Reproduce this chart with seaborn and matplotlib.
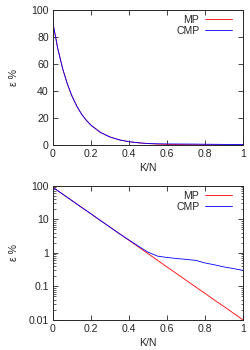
import numpy as np
import pandas as pd
import matplotlib
matplotlib.use("Agg")
import matplotlib.pyplot as plt
import seaborn as sns
from matplotlib.ticker import LogLocator, FixedLocator, FuncFormatter

# --- data ---
k_over_n = [0.0, 0.025, 0.05, 0.075, 0.10, 0.125, 0.15, 0.175, 0.20, 0.25,
            0.30, 0.35, 0.40, 0.45, 0.50, 0.55, 0.60, 0.65, 0.70, 0.75,
            0.80, 0.85, 0.90, 0.95, 1.0]
mp_err = [90.0, 71.6, 57.0, 45.4, 36.2, 28.8, 22.9, 18.3, 14.6, 9.24,
          5.86, 3.72, 2.36, 1.50, 0.95, 0.60, 0.38, 0.242, 0.153, 0.097,
          0.062, 0.039, 0.025, 0.0158, 0.010]
cmp_err = [90.0, 71.6, 57.0, 45.4, 36.2, 28.8, 22.9, 18.3, 14.6, 9.24,
           5.86, 3.72, 2.42, 1.58, 1.05, 0.80, 0.73, 0.68, 0.64, 0.60,
           0.50, 0.44, 0.38, 0.34, 0.30]

df = pd.DataFrame({"K/N": k_over_n + k_over_n,
                   "err": mp_err + cmp_err,
                   "method": ["MP"] * len(k_over_n) + ["CMP"] * len(k_over_n)})

sns.set_style("ticks")
plt.rcParams["font.family"] = ["Liberation Sans", "DejaVu Sans"]
plt.rcParams["font.size"] = 7.6

fig = plt.figure(figsize=(2.5, 3.5), dpi=100)
ax_lin = fig.add_axes([0.212, 0.586, 0.76, 0.385])
ax_log = fig.add_axes([0.212, 0.086, 0.76, 0.383])

palette = {"MP": "#ff0000", "CMP": "#0000ff"}

for ax in (ax_lin, ax_log):
    sns.lineplot(data=df, x="K/N", y="err", hue="method", palette=palette,
                 linewidth=0.6, ax=ax)
    ax.set_xlim(0, 1)
    ax.xaxis.set_major_locator(FixedLocator([0, 0.2, 0.4, 0.6, 0.8, 1.0]))
    ax.xaxis.set_major_formatter(FuncFormatter(lambda v, p: "%g" % v))
    ax.set_xlabel("K/N", labelpad=3)
    ax.set_ylabel("ε %")
    ax.yaxis.set_label_coords(-0.18, 0.5)
    ax.tick_params(direction="in", top=True, right=True, length=3.5,
                   width=0.6, pad=3)
    ax.tick_params(which="minor", direction="in", top=True, right=True,
                   length=1.8, width=0.5)
    for s in ax.spines.values():
        s.set_linewidth(0.7)
    ax.legend(loc="upper right", bbox_to_anchor=(0.942, 0.965),
              frameon=False, markerfirst=False, borderpad=0,
              borderaxespad=0, handlelength=2.6, handletextpad=0.5,
              labelspacing=0.1, fontsize=7.6)

ax_lin.set_ylim(0, 100)
ax_lin.yaxis.set_major_locator(FixedLocator([0, 20, 40, 60, 80, 100]))

ax_log.set_yscale("log")
ax_log.set_ylim(0.01, 100)
ax_log.yaxis.set_major_locator(LogLocator(base=10, numticks=10))
ax_log.yaxis.set_minor_locator(LogLocator(base=10, subs=np.arange(2, 10), numticks=10))
ax_log.yaxis.set_major_formatter(FuncFormatter(lambda v, p: "%g" % v))

fig.savefig("out.png", dpi=100)
